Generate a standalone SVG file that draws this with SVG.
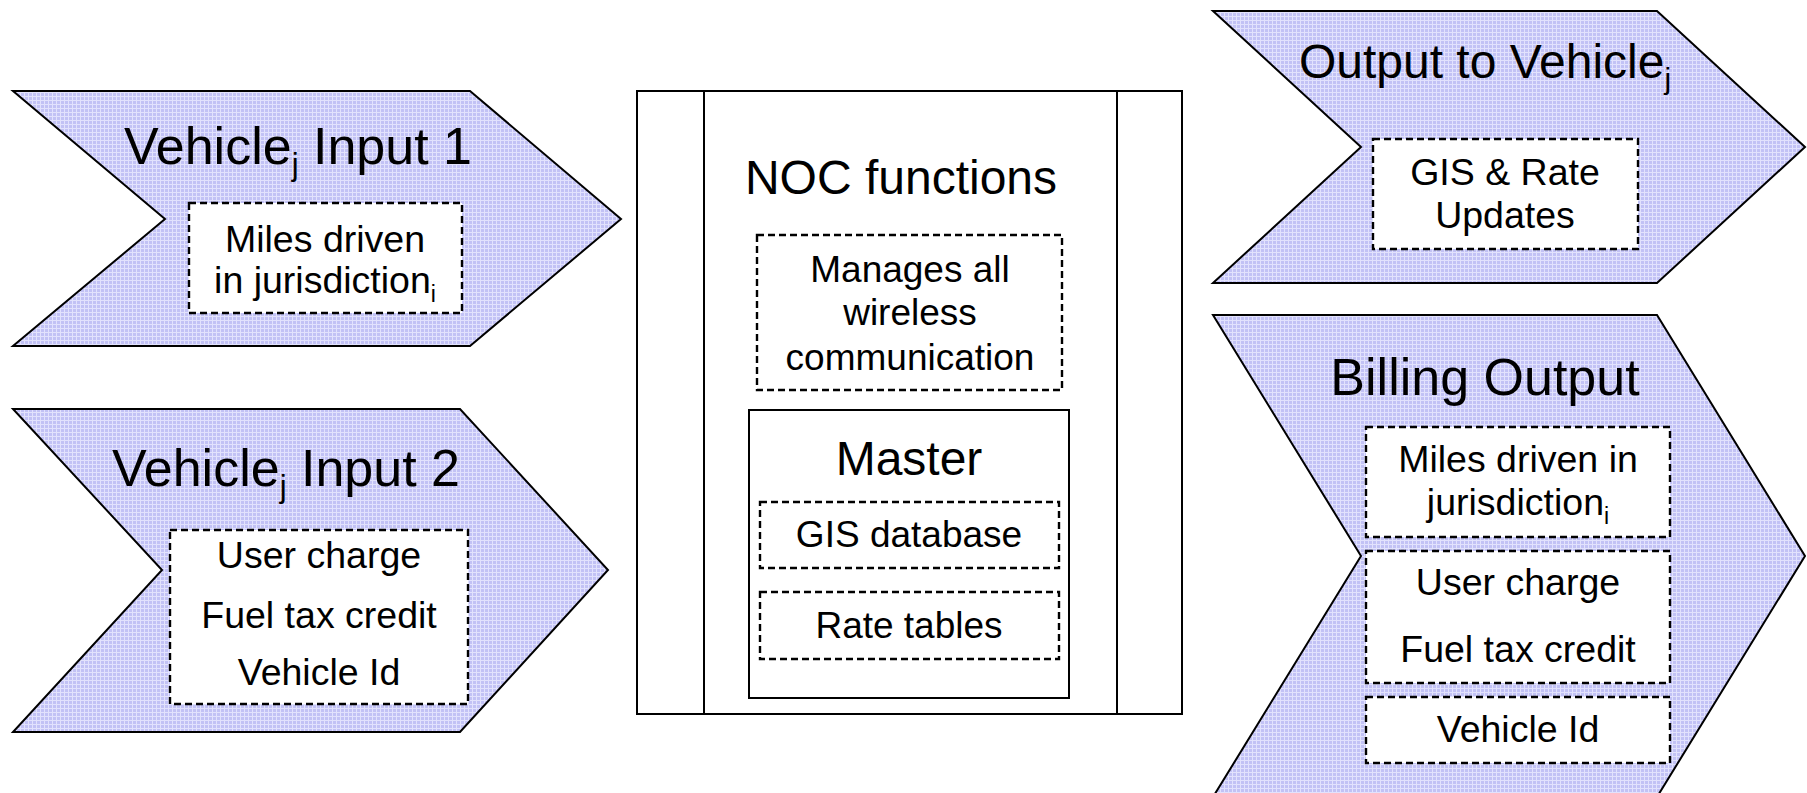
<svg xmlns="http://www.w3.org/2000/svg" width="1807" height="793" viewBox="0 0 1807 793">
<style>
.chev{fill:url(#grid);stroke:#000;stroke-width:2;stroke-linejoin:miter}
.dash{fill:#fff;stroke:#000;stroke-width:2.4;stroke-dasharray:7,4}
.solid{fill:#fff;stroke:#000;stroke-width:2}
.line{stroke:#000;stroke-width:2}
text{font-family:"Liberation Sans",Arial,sans-serif;fill:#000;text-anchor:middle}
.t{font-size:52px}
.o{font-size:48px}
.h{font-size:48px}
.s{font-size:37.5px}
.m{font-size:37px}
</style>
<defs>
<pattern id="grid" width="4" height="4" patternUnits="userSpaceOnUse">
<rect width="4" height="4" fill="#c2c2f5"/>
<rect x="0" y="0" width="4" height="1" fill="#e2e2fd"/>
<rect x="0" y="0" width="1" height="4" fill="#e2e2fd"/>
</pattern>
</defs>
<rect width="1807" height="793" fill="#fff"/>
<g id="connectors"></g>
<g id="input1">
<polygon class="chev" points="13,91 470,91 621,219 470,346 13,346 165,219"/>
<text class="t" x="298" y="164">Vehicle<tspan font-size="31" dy="11">j</tspan><tspan dy="-11"> Input 1</tspan></text>
<rect class="dash" x="189" y="203" width="273" height="110"/>
<text class="s" x="325" y="252">Miles driven</text>
<text class="s" x="325" y="293">in jurisdiction<tspan font-size="23" dy="9">i</tspan></text>
</g>
<g id="input2">
<polygon class="chev" points="13,409 460,409 608,570 460,732 13,732 162,570"/>
<text class="t" x="286" y="486">Vehicle<tspan font-size="31" dy="11">j</tspan><tspan dy="-11"> Input 2</tspan></text>
<rect class="dash" x="170" y="530" width="298" height="174"/>
<text class="s" x="319" y="568">User charge</text>
<text class="s" x="319" y="628">Fuel tax credit</text>
<text class="s" x="319" y="685">Vehicle Id</text>
</g>
<g id="noc">
<rect class="solid" x="637" y="91" width="545" height="623"/>
<line class="line" x1="704" y1="91" x2="704" y2="714"/>
<line class="line" x1="1117" y1="91" x2="1117" y2="714"/>
<text class="h" x="901" y="194">NOC functions</text>
<rect class="dash" x="757" y="235" width="305" height="155"/>
<text class="m" x="910" y="282">Manages all</text>
<text class="m" x="910" y="325">wireless</text>
<text class="m" x="910" y="370">communication</text>
<g id="master">
<rect class="solid" x="749" y="410" width="320" height="288"/>
<text class="h" x="909" y="475">Master</text>
<rect class="dash" x="760" y="502" width="299" height="66"/>
<text class="m" x="909" y="547">GIS database</text>
<rect class="dash" x="760" y="592" width="299" height="67"/>
<text class="m" x="909" y="638">Rate tables</text>
</g>
</g>
<g id="output">
<polygon class="chev" points="1213,11 1657,11 1805,147 1657,283 1213,283 1361,147"/>
<text class="o" x="1485" y="78">Output to Vehicle<tspan font-size="30" dy="11">j</tspan></text>
<rect class="dash" x="1373" y="139" width="265" height="110"/>
<text class="s" x="1505" y="185">GIS &amp; Rate</text>
<text class="s" x="1505" y="228">Updates</text>
</g>
<g id="billing">
<polygon class="chev" points="1213,315 1657,315 1805,556 1657,797 1213,797 1361,556"/>
<text class="t" x="1485" y="395">Billing Output</text>
<rect class="dash" x="1366" y="427" width="304" height="110"/>
<text class="s" x="1518" y="472">Miles driven in</text>
<text class="s" x="1518" y="515">jurisdiction<tspan font-size="23" dy="9">i</tspan></text>
<rect class="dash" x="1366" y="551" width="304" height="132"/>
<text class="s" x="1518" y="595">User charge</text>
<text class="s" x="1518" y="662">Fuel tax credit</text>
<rect class="dash" x="1366" y="697" width="304" height="66"/>
<text class="s" x="1518" y="742">Vehicle Id</text>
</g>
</svg>
